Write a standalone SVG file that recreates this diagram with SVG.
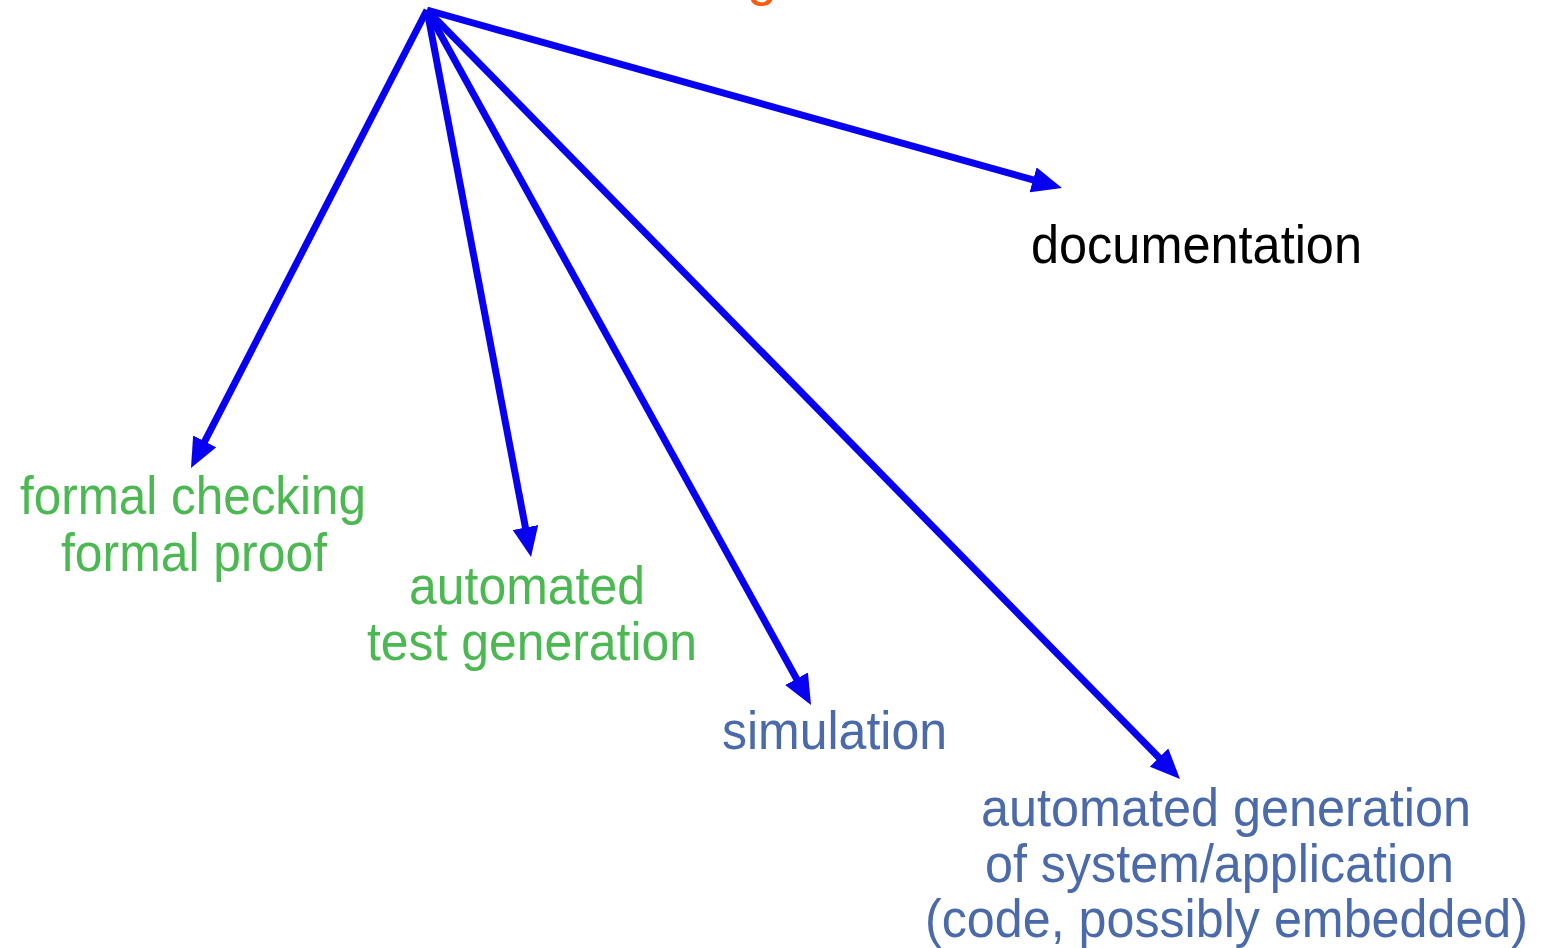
<svg xmlns="http://www.w3.org/2000/svg" width="1541" height="948" viewBox="0 0 1541 948">
<style>
text{font-family:"Liberation Sans",Arial,Helvetica,sans-serif;font-size:54px}
.g{fill:#4cb852}
.b{fill:#4a6aaa}
.k{fill:#000}
.o{fill:#ff5a14}
.c line{stroke:#0800f0;stroke-width:7;fill:none;marker-end:url(#ah)}
</style>
<defs>
<marker id="ah" markerUnits="userSpaceOnUse" viewBox="0 -13 30 26" markerWidth="30" markerHeight="26" refX="2" refY="0" orient="auto">
<path d="M0,-13 L30,0 L0,13 z" fill="#0800f0"/>
</marker>
</defs>
<rect width="1541" height="948" fill="#fff"/>
<g id="title"><text class="o" x="747" y="-5">g</text></g>
<g class="c" id="connectors">
<line x1="427" y1="10" x2="203.8" y2="443.1"/>
<line x1="427" y1="10" x2="525.8" y2="529.5"/>
<line x1="427" y1="10" x2="797.5" y2="680.5"/>
<line x1="427" y1="10" x2="1160.4" y2="759"/>
<line x1="427" y1="10" x2="1035" y2="180.4"/>
</g>
<g id="formal">
<text class="g" x="20" y="514" textLength="346" lengthAdjust="spacingAndGlyphs">formal checking</text>
<text class="g" x="61" y="571" textLength="266" lengthAdjust="spacingAndGlyphs">formal proof</text>
</g>
<g id="testgen">
<text class="g" x="409" y="604" textLength="236" lengthAdjust="spacingAndGlyphs">automated</text>
<text class="g" x="367" y="660" textLength="330" lengthAdjust="spacingAndGlyphs">test generation</text>
</g>
<g id="simulation">
<text class="b" x="722" y="749" textLength="225" lengthAdjust="spacingAndGlyphs">simulation</text>
</g>
<g id="documentation">
<text class="k" x="1031" y="263" textLength="331" lengthAdjust="spacingAndGlyphs">documentation</text>
</g>
<g id="codegen">
<text class="b" x="981" y="826" textLength="490" lengthAdjust="spacingAndGlyphs">automated generation</text>
<text class="b" x="985" y="882" textLength="469" lengthAdjust="spacingAndGlyphs">of system/application</text>
<text class="b" x="925" y="937" textLength="603" lengthAdjust="spacingAndGlyphs">(code, possibly embedded)</text>
</g>
</svg>
